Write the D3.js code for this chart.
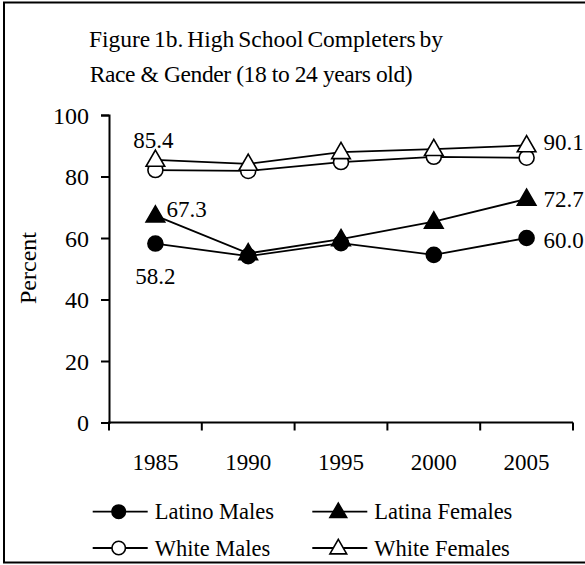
<!DOCTYPE html>
<html>
<head>
<meta charset="utf-8">
<script src="https://cdn.jsdelivr.net/npm/d3@7"></script>
<style>
  html, body { margin: 0; padding: 0; background: #fff; }
  svg { display: block; }
  text { font-family: "Liberation Serif", "Times New Roman", serif; fill: #000; }
</style>
</head>
<body>
<script>
// High school completers, ages 18-24, by race and gender
const years = ["1985", "1990", "1995", "2000", "2005"];
const latinoMales   = [58.2, 54.1, 58.3, 54.5, 60.0];
const latinaFemales = [67.3, 55.0, 59.6, 65.3, 72.7];
const whiteMales    = [82.1, 81.8, 84.7, 86.4, 86.1];
const whiteFemales  = [85.4, 84.1, 87.9, 88.9, 90.1];
const yTicks = [0, 20, 40, 60, 80, 100];

const seriesNames = ["Latino Males", "Latina Females", "White Males", "White Females"];
const seriesMarkers = ["circle", "triangle", "circle", "triangle"];
const seriesFilled = [true, true, false, false];
const seriesValues = [latinoMales, latinaFemales, whiteMales, whiteFemales];

const series = seriesNames.map((name, i) => ({
  name, marker: seriesMarkers[i], filled: seriesFilled[i], values: seriesValues[i]
}));

const W = 585, H = 565;
const svg = d3.select("body").append("svg").attr("width", W).attr("height", H);

// frame
svg.append("rect")
  .attr("x", 4).attr("y", 2.5).attr("width", 620).attr("height", 560)
  .attr("fill", "none").attr("stroke", "#000").attr("stroke-width", 2);

// title
const title = svg.append("g").attr("font-size", 23.5);
title.append("text").attr("x", 266).attr("y", 47).attr("text-anchor", "middle")
  .attr("word-spacing", -2)
  .text("Figure 1b. High School Completers by");
title.append("text").attr("x", 251).attr("y", 82).attr("text-anchor", "middle")
  .attr("letter-spacing", -0.4)
  .text("Race & Gender (18 to 24 years old)");

// scales
const x = d3.scaleBand().domain(years).range([109, 573]).padding(0);
const cx = d => x(d) + x.bandwidth() / 2;
const y = d3.scaleLinear().domain([0, 100]).range([422.5, 115]);

// y axis
const yAxis = svg.append("g").attr("transform", "translate(109,0)")
  .call(d3.axisLeft(y).tickValues(yTicks).tickSize(8).tickPadding(12));
yAxis.select(".domain").attr("stroke-width", 2);
yAxis.selectAll(".tick line").attr("stroke-width", 2);
yAxis.selectAll(".tick text").attr("font-size", 24).attr("dy", "0.35em");

// x axis: ticks sit at category boundaries
const xg = svg.append("g");
xg.append("line").attr("x1", 108).attr("x2", x.range()[1]).attr("y1", y(0)).attr("y2", y(0))
  .attr("stroke", "#000").attr("stroke-width", 2);
const bounds = years.map(d => x(d)).concat([x.range()[1]]);
xg.selectAll("line.tk").data(bounds).join("line").attr("class", "tk")
  .attr("x1", d => d).attr("x2", d => d)
  .attr("y1", y(0)).attr("y2", y(0) + 8)
  .attr("stroke", "#000").attr("stroke-width", 2);
xg.selectAll("text").data(years).join("text")
  .attr("x", d => cx(d)).attr("y", 470).attr("text-anchor", "middle")
  .attr("font-size", 23).text(d => d);

// y title
svg.append("text").attr("transform", "translate(36,268) rotate(-90)")
  .attr("text-anchor", "middle").attr("font-size", 24).text("Percent");

// marker drawing
const triSize = 150, circR = 7.5;
function drawMarker(g, s, px, py, scale = 1) {
  const fill = s.filled ? "#000" : "#fff";
  if (s.marker === "circle") {
    g.append("circle").attr("cx", px).attr("cy", py).attr("r", circR * scale)
      .attr("fill", fill).attr("stroke", "#000").attr("stroke-width", 1.6);
  } else {
    g.append("path").attr("d", d3.symbol(d3.symbolTriangle, triSize * scale * scale)())
      .attr("transform", `translate(${px},${py + 1})`)
      .attr("fill", fill).attr("stroke", "#000").attr("stroke-width", 1.6);
  }
}

const line = d3.line().x((v, i) => cx(years[i])).y(v => y(v));
const plot = svg.append("g");
series.forEach(s => {
  plot.append("path").attr("d", line(s.values))
    .attr("fill", "none").attr("stroke", "#000").attr("stroke-width", 1.8);
});
series.forEach(s => {
  const g = plot.append("g");
  s.values.forEach((v, i) => drawMarker(g, s, cx(years[i]), y(v)));
});

// value labels
const lab = svg.append("g").attr("font-size", 23);
const first = years[0], last = years[years.length - 1];
lab.append("text").attr("x", cx(first) - 2).attr("y", y(whiteFemales[0]) - 12)
  .attr("text-anchor", "middle").text(whiteFemales[0].toFixed(1));
lab.append("text").attr("x", cx(first) + 11).attr("y", y(latinaFemales[0]) + 1)
  .text(latinaFemales[0].toFixed(1));
lab.append("text").attr("x", cx(first)).attr("y", y(latinoMales[0]) + 40)
  .attr("text-anchor", "middle").text(latinoMales[0].toFixed(1));
[[whiteFemales, 5], [latinaFemales, 8], [latinoMales, 10]].forEach(([vals, dy]) => {
  lab.append("text").attr("x", cx(last) + 17).attr("y", y(vals[vals.length - 1]) + dy)
    .text(vals[vals.length - 1].toFixed(1));
});

// legend
const legendPos = [[92.7, 511.7], [312.3, 511.7], [92.7, 548], [312.3, 548]];
const leg = svg.append("g");
series.forEach((s, i) => {
  const [lx, ly] = legendPos[i];
  leg.append("line").attr("x1", lx).attr("x2", lx + 55).attr("y1", ly).attr("y2", ly)
    .attr("stroke", "#000").attr("stroke-width", 1.8);
  drawMarker(leg, s, lx + 26, ly, 0.9);
  leg.append("text").attr("x", lx + 62).attr("y", ly + 7.5).attr("font-size", 22.5).text(s.name);
});
</script>
</body>
</html>
